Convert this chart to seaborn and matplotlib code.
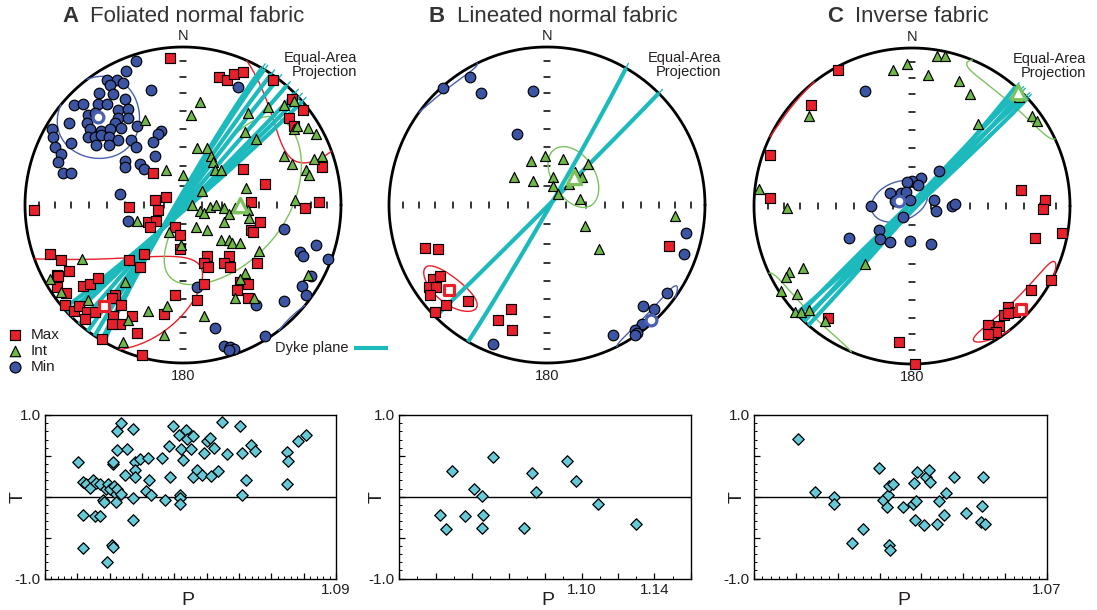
import numpy as np
import matplotlib
matplotlib.use("Agg")
import matplotlib.pyplot as plt
from matplotlib.ticker import MultipleLocator, FuncFormatter
import seaborn as sns

# ---------------------------------------------------------------------------
# Data
# Stereonet positions are (east, north) on a lower-hemisphere equal-area net
# whose primitive circle has radius 1.
# ---------------------------------------------------------------------------
a_max = [(-0.08, 0.93), (0.23, 0.81), (0.28, 0.79), (0.32, 0.83), (0.38, 0.84), (0.57, 0.79),
         (0.69, 0.67), (0.76, 0.60), (0.67, 0.55), (0.70, 0.50), (0.88, 0.24), (0.38, 0.23),
         (0.52, 0.13), (0.43, 0.02), (0.86, 0.02), (0.77, -0.02), (-0.34, -0.01), (-0.18, 0.03),
         (-0.11, 0.05), (-0.16, -0.03), (-0.94, -0.03), (-0.19, 0.20), (-0.22, -0.11), (-0.17, -0.10),
         (-0.21, -0.14), (-0.05, -0.14), (-0.02, -0.19), (-0.02, -0.28), (0.43, -0.16), (0.44, -0.17),
         (0.49, -0.11), (0.15, -0.32), (0.13, -0.37), (0.16, -0.39), (0.29, -0.32), (0.26, -0.37),
         (0.30, -0.39), (0.47, -0.37), (-0.84, -0.31), (-0.77, -0.35), (-0.34, -0.35), (-0.27, -0.39),
         (-0.25, -0.31), (-0.80, -0.44), (-0.72, -0.42), (-0.79, -0.45), (-0.80, -0.52), (-0.74, -0.56),
         (-0.63, -0.51), (-0.59, -0.50), (-0.54, -0.46), (0.13, -0.50), (0.36, -0.49), (0.41, -0.50),
         (0.34, -0.54), (0.41, -0.59), (-0.05, -0.57), (0.09, -0.60), (-0.43, -0.57), (-0.45, -0.59),
         (-0.75, -0.63), (-0.69, -0.67), (-0.66, -0.64), (-0.61, -0.68), (-0.56, -0.68), (-0.62, -0.72),
         (-0.39, -0.63), (-0.44, -0.70), (-0.40, -0.75), (-0.45, -0.75), (-0.32, -0.70), (-0.12, -0.69),
         (-0.29, -0.81), (-0.51, -0.85), (-0.26, -0.95)]
a_int = [(0.11, 0.65), (0.05, 0.57), (-0.24, 0.54), (0.41, 0.58), (0.54, 0.62), (0.64, 0.63),
         (0.70, 0.66), (0.70, 0.48), (0.72, 0.50), (0.79, 0.49), (0.84, 0.45), (0.46, 0.42),
         (0.39, 0.46), (0.09, 0.36), (0.15, 0.36), (0.18, 0.31), (0.19, 0.27), (0.20, 0.22),
         (0.24, 0.22), (0.00, 0.19), (-0.11, 0.22), (0.78, 0.22), (0.80, 0.19), (0.88, 0.31),
         (0.83, 0.29), (0.69, 0.26), (0.64, 0.31), (0.12, 0.09), (0.40, 0.11), (0.06, 0.00),
         (0.11, -0.04), (0.13, -0.05), (0.17, -0.01), (0.21, 0.00), (0.26, -0.02), (0.29, -0.06),
         (0.26, -0.11), (0.33, -0.02), (0.41, -0.03), (0.42, -0.08), (0.71, 0.03), (-0.29, -0.10),
         (0.08, -0.14), (0.15, -0.16), (-0.09, -0.17), (0.24, -0.22), (0.29, -0.22), (0.31, -0.24),
         (0.36, -0.24), (-0.01, -0.25), (0.48, -0.29), (-0.64, -0.34), (-0.84, -0.47), (-0.77, -0.55),
         (-0.37, -0.49), (0.39, -0.43), (0.36, -0.47), (0.79, -0.44), (0.45, -0.59), (0.33, -0.59),
         (-0.60, -0.60), (-0.10, -0.64), (-0.22, -0.67), (-0.35, -0.73), (0.13, -0.70), (-0.12, -0.82),
         (-0.38, -0.87)]
a_min = [(-0.30, 0.91), (-0.36, 0.85), (-0.48, 0.79), (-0.42, 0.79), (-0.38, 0.77), (-0.46, 0.76),
         (-0.20, 0.73), (-0.53, 0.71), (-0.44, 0.70), (-0.37, 0.67), (-0.69, 0.63), (-0.63, 0.64),
         (-0.54, 0.64), (-0.48, 0.64), (-0.41, 0.60), (-0.35, 0.61), (-0.60, 0.57), (-0.56, 0.58),
         (-0.41, 0.55), (-0.35, 0.55), (-0.29, 0.50), (-0.72, 0.52), (-0.61, 0.52), (-0.43, 0.52),
         (-0.83, 0.48), (-0.52, 0.47), (-0.59, 0.48), (-0.46, 0.48), (-0.39, 0.49), (-0.14, 0.47),
         (-0.16, 0.45), (-0.82, 0.43), (-0.60, 0.43), (-0.56, 0.43), (-0.52, 0.44), (-0.47, 0.43),
         (-0.41, 0.41), (-0.33, 0.41), (-0.19, 0.40), (-0.71, 0.39), (-0.55, 0.38), (-0.47, 0.38),
         (-0.30, 0.37), (-0.81, 0.37), (-0.77, 0.32), (-0.18, 0.31), (-0.79, 0.27), (-0.37, 0.28),
         (-0.27, 0.26), (-0.37, 0.24), (-0.25, 0.23), (-0.76, 0.20), (-0.71, 0.20), (-0.40, 0.07),
         (-0.35, -0.10), (0.35, 0.75), (0.09, -0.52), (0.64, -0.15), (0.84, -0.25), (0.74, -0.30),
         (0.76, -0.32), (0.92, -0.34), (0.81, -0.45), (0.75, -0.51), (0.78, -0.57), (0.64, -0.61),
         (0.46, -0.63), (0.20, -0.78), (0.52, -0.83), (0.26, -0.89), (0.30, -0.90), (0.32, -0.91),
         (0.29, -0.92)]

b_max = [(-0.77, -0.27), (-0.69, -0.28), (-0.72, -0.47), (-0.68, -0.45), (-0.75, -0.52), (-0.70, -0.52),
         (-0.74, -0.57), (-0.64, -0.63), (-0.50, -0.61), (-0.71, -0.68), (-0.23, -0.66), (-0.31, -0.73),
         (-0.22, -0.79), (0.77, -0.26)]
b_int = [(-0.01, 0.31), (-0.10, 0.28), (0.10, 0.29), (-0.21, 0.18), (-0.09, 0.15), (0.04, 0.18),
         (0.04, 0.12), (0.18, 0.21), (0.22, 0.18), (0.26, 0.26), (0.14, 0.13), (0.07, 0.07),
         (0.21, 0.04), (0.24, -0.13), (0.33, -0.28), (0.81, -0.07)]
b_min = [(-0.49, 0.81), (-0.66, 0.74), (-0.42, 0.71), (-0.09, 0.72), (-0.19, 0.45), (0.88, -0.18),
         (0.87, -0.31), (0.76, -0.56), (0.61, -0.64), (0.68, -0.66), (0.60, -0.75), (0.56, -0.79),
         (0.57, -0.81), (0.56, -0.82), (0.42, -0.82), (-0.34, -0.88)]

c_max = [(-0.47, 0.86), (-0.64, 0.64), (-0.90, 0.32), (-0.90, 0.05), (0.69, 0.10), (0.84, 0.04),
         (0.83, -0.02), (0.95, -0.17), (0.78, -0.20), (0.88, -0.47), (0.75, -0.53), (0.61, -0.64),
         (0.65, -0.67), (0.58, -0.69), (0.61, -0.68), (0.55, -0.76), (0.48, -0.75), (0.53, -0.80),
         (0.48, -0.81), (-0.53, -0.71), (-0.08, -0.86), (0.02, -1.00)]
c_int = [(-0.03, 0.90), (-0.12, 0.86), (0.16, 0.95), (0.21, 0.95), (0.10, 0.83), (0.30, 0.79),
         (0.37, 0.71), (0.42, 0.52), (-0.65, 0.57), (0.68, 0.69), (0.76, 0.57), (0.79, 0.54),
         (-0.97, 0.11), (-0.79, -0.01), (-0.30, -0.37), (-0.69, -0.39), (-0.78, -0.42), (-0.80, -0.45),
         (-0.83, -0.54), (-0.73, -0.56), (-0.74, -0.67), (-0.70, -0.67), (-0.65, -0.66), (-0.55, -0.73)]
c_min = [(-0.30, 0.73), (0.17, 0.22), (0.06, 0.18), (0.00, 0.16), (-0.03, 0.15), (0.04, 0.13),
         (-0.14, 0.08), (-0.07, 0.08), (-0.04, 0.09), (-0.09, 0.03), (-0.01, 0.04), (-0.11, 0.03),
         (-0.26, 0.00), (0.14, 0.04), (0.15, -0.03), (0.25, 0.00), (0.27, 0.01), (-0.06, -0.07),
         (-0.21, -0.15), (-0.40, -0.20), (-0.20, -0.21), (-0.14, -0.23), (-0.01, -0.22), (0.12, -0.24)]

# Mean axes (Max, Int, Min) and their confidence cones:
# semi-angles (deg) and tilt of the long axis from the horizontal (deg)
a_mean = [(-0.50, -0.64), (0.36, 0.00), (-0.54, 0.56)]
a_cone_long = [54, 51, 25]
a_cone_short = [23, 25, 18]
a_cone_tilt = [122, 38, 90]

b_mean = [(-0.62, -0.54), (0.17, 0.18), (0.66, -0.73)]
b_cone_long = [14, 17, 16]
b_cone_short = [8, 11, 5]
b_cone_tilt = [-20, 15, -8]

c_mean = [(0.69, -0.65), (0.67, 0.72), (-0.08, 0.03)]
c_cone_long = [22, 22, 15]
c_cone_short = [7, 9, 10]
c_cone_tilt = [5, -5, 49]

# Dyke planes: dip direction and dip (deg)
a_dyke_dipdir = [300, 301, 304, 307, 311, 135, 137, 139]
a_dyke_dip = [86.7, 87.0, 87.8, 88.7, 89.9, 88.8, 88.3, 87.6]
b_dyke_dipdir = [120, 135]
b_dyke_dip = [88.4, 89.4]
c_dyke_dipdir = [131, 134, 137, 313, 316]
c_dyke_dip = [88.8, 88.2, 88.6, 89.0, 88.5]

# Anisotropy degree P and shape parameter T
a_P = [1.0103, 1.0117, 1.0126, 1.0139, 1.0147, 1.0158, 1.0170, 1.0117, 1.0116, 1.0155,
       1.0170, 1.0180, 1.0183, 1.0189, 1.0196, 1.0201, 1.0209, 1.0211, 1.0207, 1.0211,
       1.0193, 1.0214, 1.0220, 1.0222, 1.0220, 1.0236, 1.0224, 1.0236, 1.0224, 1.0253,
       1.0247, 1.0273, 1.0273, 1.0273, 1.0277, 1.0278, 1.0278, 1.0294, 1.0320, 1.0322,
       1.0312, 1.0327, 1.0361, 1.0370, 1.0385, 1.0387, 1.0397, 1.0414, 1.0420, 1.0418,
       1.0416, 1.0418, 1.0428, 1.0436, 1.0440, 1.0451, 1.0457, 1.0459, 1.0469, 1.0485,
       1.0492, 1.0500, 1.0510, 1.0512, 1.0523, 1.0536, 1.0548, 1.0564, 1.0603, 1.0610,
       1.0610, 1.0621, 1.0636, 1.0649, 1.0747, 1.0753, 1.0747, 1.0784, 1.0807]
a_T = [0.42, 0.18, 0.16, 0.11, 0.20, 0.17, 0.15, -0.22, -0.63, -0.24,
       -0.24, -0.04, -0.06, 0.09, 0.16, 0.10, 0.40, 0.42, -0.59, -0.61,
       -0.80, 0.13, 0.03, 0.09, -0.07, 0.03, 0.81, 0.90, 0.57, 0.59,
       0.26, 0.83, -0.02, -0.28, 0.42, 0.33, 0.24, 0.46, 0.47, 0.21,
       0.07, 0.02, 0.47, -0.04, 0.62, 0.24, 0.87, 0.76, 0.58, 0.02,
       -0.01, -0.09, 0.45, 0.82, 0.71, 0.58, 0.24, 0.74, 0.33, 0.27,
       0.54, 0.68, 0.72, 0.25, 0.60, 0.31, 0.91, 0.52, 0.87, 0.53,
       0.02, 0.20, 0.63, 0.56, 0.55, 0.44, 0.16, 0.68, 0.75]
b_P = [1.0293, 1.0516, 1.0411, 1.0457, 1.0223, 1.0256, 1.0360, 1.0461, 1.0457, 1.0731,
       1.0750, 1.0684, 1.0922, 1.0969, 1.1090, 1.1298]
b_T = [0.32, 0.49, 0.09, 0.01, -0.22, -0.40, -0.24, -0.22, -0.38, 0.29,
       0.06, -0.38, 0.44, 0.19, -0.09, -0.33]
c_P = [1.0105, 1.0146, 1.0192, 1.0192, 1.0235, 1.0261, 1.0299, 1.0307, 1.0317, 1.0319,
       1.0322, 1.0331, 1.0322, 1.0325, 1.0357, 1.0382, 1.0381, 1.0386, 1.0384, 1.0390,
       1.0407, 1.0411, 1.0417, 1.0421, 1.0441, 1.0437, 1.0453, 1.0459, 1.0479, 1.0506,
       1.0547, 1.0544, 1.0542, 1.0551]
c_T = [0.71, 0.06, 0.00, -0.09, -0.57, -0.40, 0.35, -0.04, -0.13, 0.02,
       0.13, 0.15, -0.59, -0.65, -0.12, 0.17, -0.09, -0.05, -0.28, 0.30,
       -0.35, 0.24, 0.33, 0.18, -0.05, -0.33, -0.22, 0.04, 0.24, -0.20,
       0.24, -0.11, -0.31, -0.33]

titles = [("A", "Foliated normal fabric"), ("B", "Lineated normal fabric"), ("C", "Inverse fabric")]
p_max = [1.09, 1.16, 1.07]
p_major = [0.01, 0.02, 0.01]
p_minor = [0.002, 0.01, 0.002]
p_labels = [[1.09], [1.10, 1.14], [1.07]]

# ---------------------------------------------------------------------------
# Style
# ---------------------------------------------------------------------------
sns.set_theme(style="white")
plt.rcParams["font.family"] = ["Liberation Sans", "DejaVu Sans"]
plt.rcParams["axes.unicode_minus"] = False

RED = "#E8202A"
GREEN = "#6DB847"
BLUE = "#3B54A3"
CYAN = "#1DBABD"
DIAMOND = "#67C8D6"
ELL_GREEN = "#7CC35C"
ELL_BLUE = "#4A60B0"
INK = "#231F20"

W, H = 1097, 610
fig = plt.figure(figsize=(W / 100, H / 100), dpi=100)


# ---------------------------------------------------------------------------
# Equal-area projection helpers
# ---------------------------------------------------------------------------
def to_xy(trend, plunge):
    th = np.radians(90.0 - np.asarray(plunge))
    r = np.sqrt(2.0) * np.sin(th / 2.0)
    t = np.radians(trend)
    return r * np.sin(t), r * np.cos(t)


def vec_to_xy(v):
    v = v / np.linalg.norm(v, axis=0)
    pl = np.degrees(np.arcsin(np.clip(v[2], -1, 1)))
    tr = np.degrees(np.arctan2(v[0], v[1]))
    return to_xy(tr, pl)


def xy_to_vec(x, y):
    r = np.hypot(x, y)
    th = 2.0 * np.arcsin(min(r / np.sqrt(2.0), 1.0))
    pl = np.pi / 2 - th
    tr = np.arctan2(x, y)
    v = np.array([np.cos(pl) * np.sin(tr), np.cos(pl) * np.cos(tr), np.sin(pl)])
    return v, tr, pl


def cone_segments(mean, a, b, psi, n=1441):
    m, tr, pl = xy_to_vec(*mean)
    h = np.array([np.cos(tr), -np.sin(tr), 0.0])
    v = np.array([-np.sin(pl) * np.sin(tr), -np.sin(pl) * np.cos(tr), np.cos(pl)])
    ps = np.radians(psi)
    major = np.cos(ps) * h + np.sin(ps) * v
    minor = -np.sin(ps) * h + np.cos(ps) * v
    phi = np.linspace(0, 2 * np.pi, n)[:-1]
    P = (m[:, None] + np.tan(np.radians(a)) * np.cos(phi) * major[:, None]
         + np.tan(np.radians(b)) * np.sin(phi) * minor[:, None])
    up = P[2] < 0
    P[:, up] *= -1
    x, y = vec_to_xy(P)
    flips = np.flatnonzero(up[1:] != up[:-1]) + 1
    if len(flips) == 0:
        return [(np.append(x, x[0]), np.append(y, y[0]))]
    k = flips[0]
    x, y, up = np.roll(x, -k), np.roll(y, -k), np.roll(up, -k)
    br = np.flatnonzero(up[1:] != up[:-1]) + 1
    return [(x[i], y[i]) for i in np.split(np.arange(len(x)), br)]


def great_circle(dipdir, dip, t):
    s = np.radians(dipdir - 90.0)
    dd = np.radians(dipdir)
    d = np.radians(dip)
    a = np.array([np.sin(s), np.cos(s), 0.0])
    b = np.array([np.cos(d) * np.sin(dd), np.cos(d) * np.cos(dd), np.sin(d)])
    P = np.cos(t) * a[:, None] + np.sin(t) * b[:, None]
    pl = np.degrees(np.arcsin(np.clip(P[2], -1, 1)))
    tr = np.degrees(np.arctan2(P[0], P[1]))
    return to_xy(tr, pl)


# ---------------------------------------------------------------------------
# Stereonets
# ---------------------------------------------------------------------------
R, L = 158.0, 1.2
net_centres = [(183, 205), (547, 205), (912, 206)]
title_x = [(62, 90), (429, 457), (827, 855)]
nets = [
    (a_max, a_int, a_min, a_mean, a_cone_long, a_cone_short, a_cone_tilt, a_dyke_dipdir, a_dyke_dip),
    (b_max, b_int, b_min, b_mean, b_cone_long, b_cone_short, b_cone_tilt, b_dyke_dipdir, b_dyke_dip),
    (c_max, c_int, c_min, c_mean, c_cone_long, c_cone_short, c_cone_tilt, c_dyke_dipdir, c_dyke_dip),
]
tick_r = np.sqrt(2.0) * np.sin(np.radians((90 - np.arange(10, 90, 10)) / 2.0))


def scatter_pts(ax, pts, marker, s, color, z):
    arr = np.asarray(pts)
    sns.scatterplot(x=arr[:, 0], y=arr[:, 1], marker=marker, s=s, color=color,
                    edgecolor="black", linewidth=0.85, ax=ax, zorder=z, legend=False)


for k, (cx, cy) in enumerate(net_centres):
    mx, it, mn, means, clong, cshort, ctilt, ddir, ddip = nets[k]
    ax = fig.add_axes([(cx - R * L) / W, 1 - (cy + R * L) / H, 2 * R * L / W, 2 * R * L / H])
    ax.set_xlim(-L, L)
    ax.set_ylim(-L, L)
    ax.axis("off")

    # primitive circle and inclination ticks
    th = np.linspace(0, 2 * np.pi, 721)
    ax.plot(np.cos(th), np.sin(th), color="black", lw=2.0, zorder=1)
    tl = 0.016
    for r in tick_r:
        for sgn in (-1, 1):
            ax.plot([sgn * r, sgn * r], [-tl, tl], color="black", lw=1.1, zorder=1)
            ax.plot([-tl, tl], [sgn * r, sgn * r], color="black", lw=1.1, zorder=1)

    # confidence cones
    for (mean, a, b, psi, col) in zip(means, clong, cshort, ctilt, [RED, ELL_GREEN, ELL_BLUE]):
        for sx, sy in cone_segments(mean, a, b, psi):
            ax.plot(sx, sy, color=col, lw=1.0, zorder=2)

    # dyke planes
    t_main = np.linspace(0, np.pi, 400)
    for dd, dp in zip(ddir, ddip):
        gx, gy = great_circle(dd, dp, t_main)
        ax.plot(gx, gy, color=CYAN, lw=3.0, solid_capstyle="butt", zorder=3)
        for t_ext in (np.linspace(-0.07, 0, 10), np.linspace(np.pi, np.pi + 0.07, 10)):
            ex, ey = great_circle(dd, dp, t_ext)
            if ex.mean() > 0 and ey.mean() > 0:
                ax.plot(ex, ey, color=CYAN, lw=1.0, zorder=3)

    # individual specimen axes
    scatter_pts(ax, mn, "o", 58, BLUE, 4)
    scatter_pts(ax, mx, "s", 50, RED, 5)
    scatter_pts(ax, it, "^", 52, GREEN, 6)

    # mean axes
    for (mpt, mk, col, s) in zip(means, ["s", "^", "o"], [RED, ELL_GREEN, ELL_BLUE], [62, 105, 60]):
        sns.scatterplot(x=[mpt[0]], y=[mpt[1]], marker=mk, s=s, color="white",
                        edgecolor=col, linewidth=2.3, ax=ax, zorder=7, legend=False)

    ax.text(0, 1.07, "N", ha="center", va="center", fontsize=10.5, color=INK)
    ax.text(0, -1.085, "180", ha="center", va="center", fontsize=10.5, color=INK)
    ax.text(1.10, 0.885, "Equal-Area\nProjection", ha="right", va="center",
            multialignment="right", fontsize=10.5, linespacing=1.0, color=INK)

    lx, tx = title_x[k]
    fig.text(lx / W, 1 - 16 / H, titles[k][0], fontsize=16, fontweight="bold",
             ha="left", va="center", color="#333333")
    fig.text(tx / W, 1 - 16 / H, titles[k][1], fontsize=16, ha="left", va="center", color="#333333")

    if k == 0:
        for (yy, mk, col, lab, s) in [(-0.822, "s", RED, "Max", 52), (-0.925, "^", GREEN, "Int", 56),
                                      (-1.027, "o", BLUE, "Min", 62)]:
            ax.scatter([-1.064], [yy], marker=mk, s=s, color=col, edgecolor="black",
                       linewidth=0.85, clip_on=False, zorder=8)
            ax.text(-0.964, yy, lab, ha="left", va="center", fontsize=11, color=INK)
        ax.text(1.045, -0.904, "Dyke plane", ha="right", va="center", fontsize=10.5, color=INK)
        ax.plot([1.083, 1.30], [-0.904, -0.904], color=CYAN, lw=3.0, clip_on=False,
                solid_capstyle="butt")

# ---------------------------------------------------------------------------
# P-T plots
# ---------------------------------------------------------------------------
pt_frames = [(45, 336), (399, 691), (754, 1047)]
pt_data = [(a_P, a_T), (b_P, b_T), (c_P, c_T)]
t_label_x = [-0.093, -0.075, -0.058]
p_label_x = [0.49, 0.51, 0.51]
y0, y1 = 415, 578.5

for k, (x0, x1) in enumerate(pt_frames):
    ax = fig.add_axes([x0 / W, 1 - y1 / H, (x1 - x0) / W, (y1 - y0) / H])
    ax.axhline(0, color="black", lw=1.0, zorder=1)
    P, T = pt_data[k]
    sns.scatterplot(x=P, y=T, marker="D", s=34, color=DIAMOND, edgecolor="black",
                    linewidth=0.9, ax=ax, zorder=3, legend=False)
    ax.set_xlim(1.0, p_max[k])
    ax.set_ylim(-1.0, 1.0)
    ax.set_xlabel("")
    ax.set_ylabel("")
    ax.xaxis.set_major_locator(MultipleLocator(p_major[k]))
    ax.xaxis.set_minor_locator(MultipleLocator(p_minor[k]))
    ax.yaxis.set_major_locator(MultipleLocator(0.5))
    ax.yaxis.set_minor_locator(MultipleLocator(0.1))
    labs = p_labels[k]
    ax.xaxis.set_major_formatter(FuncFormatter(
        lambda v, p, labs=labs: f"{v:.2f}" if any(abs(v - l) < 1e-6 for l in labs) else ""))
    ax.yaxis.set_major_formatter(FuncFormatter(
        lambda v, p: f"{v:.1f}" if abs(abs(v) - 1.0) < 1e-6 else ""))
    ax.tick_params(which="both", direction="in", bottom=True, left=True, top=False, right=False,
                   colors="black")
    ax.tick_params(which="major", length=4, width=0.9, labelsize=11, pad=3, labelcolor=INK)
    ax.tick_params(which="minor", length=2, width=0.7)
    for sp in ax.spines.values():
        sp.set_visible(True)
        sp.set_color("black")
        sp.set_linewidth(1.0)
    ax.text(p_label_x[k], -0.08, "P", transform=ax.transAxes, ha="center", va="top",
            fontsize=14, color=INK)
    ax.text(t_label_x[k], 0.5, "T", transform=ax.transAxes, ha="center", va="center",
            rotation=90, fontsize=14, color=INK)

fig.savefig("out.png", dpi=100, facecolor="white")
